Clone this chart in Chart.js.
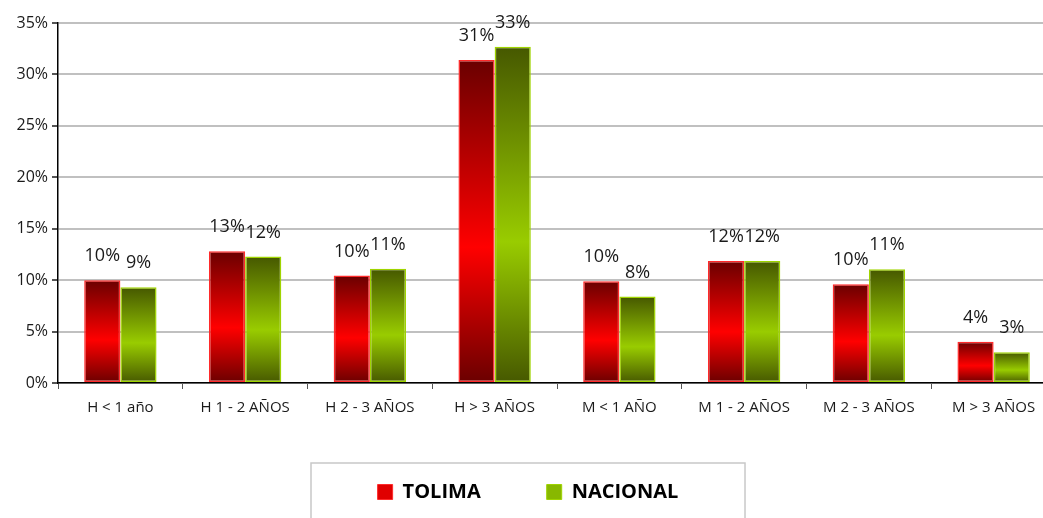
<!DOCTYPE html>
<html>
<head>
<meta charset="utf-8">
<script src="https://cdn.jsdelivr.net/npm/chart.js@4"></script>
<style>
    html, body { margin: 0; padding: 0; background: #fff; overflow: hidden; }
    #wrap { width: 1056px; height: 530px; position: relative; }
</style>
</head>
<body>
<div id="wrap"><canvas id="chart"></canvas></div>
<script>
const categories = ['H < 1 año', 'H 1 - 2 AÑOS', 'H 2 - 3 AÑOS', 'H > 3 AÑOS', 'M < 1 AÑO', 'M 1 - 2 AÑOS', 'M 2 - 3 AÑOS', 'M > 3 AÑOS'];
const tolima = [10.0, 12.8, 10.45, 31.4, 9.9, 11.85, 9.6, 4.0];
const nacional = [9.3, 12.3, 11.1, 32.7, 8.4, 11.85, 11.05, 3.0];
const yTicks = [0, 5, 10, 15, 20, 25, 30, 35];

const FONT = "'Open Sans', 'Liberation Sans', sans-serif";

// vertical gradient per bar: dark at the ends, bright towards the middle
function barGradient(dark, bright) {
    return (ctx) => {
        const chart = ctx.chart;
        if (!chart.chartArea || ctx.type !== 'data') return bright;
        const y = chart.scales.y;
        const top = y.getPixelForValue(ctx.raw);
        const bottom = y.getPixelForValue(0);
        if (!isFinite(top) || bottom - top < 1) return bright;
        const g = chart.ctx.createLinearGradient(0, top, 0, bottom);
        g.addColorStop(0, dark);
        g.addColorStop(0.58, bright);
        g.addColorStop(1, dark);
        return g;
    };
}

const valueLabels = {
    id: 'valueLabels',
    afterDatasetsDraw(chart) {
        const ctx = chart.ctx;
        ctx.save();
        ctx.font = '18px ' + FONT;
        ctx.fillStyle = '#1a1a1a';
        ctx.textAlign = 'center';
        ctx.textBaseline = 'bottom';
        chart.data.datasets.forEach((ds, i) => {
            chart.getDatasetMeta(i).data.forEach((bar, j) => {
                ctx.fillText(Math.round(ds.data[j]) + '%', bar.x, bar.y - 15);
            });
        });
        ctx.restore();
    }
};

const legendBox = {
    id: 'legendBox',
    afterDraw(chart) {
        const lg = chart.legend;
        if (!lg || !lg.legendHitBoxes.length) return;
        const first = lg.legendHitBoxes[0];
        const last = lg.legendHitBoxes[lg.legendHitBoxes.length - 1];
        const cx = (first.left + last.left + last.width) / 2;
        const cy = first.top + first.height / 2;
        const ctx = chart.ctx;
        ctx.save();
        ctx.strokeStyle = '#c8c8c8';
        ctx.lineWidth = 1.5;
        ctx.strokeRect(cx - 217, cy - 29, 434, 80);
        ctx.restore();
    }
};

new Chart(document.getElementById('chart'), {
    type: 'bar',
    data: {
        labels: categories,
        datasets: [
            {
                label: 'TOLIMA',
                data: tolima,
                backgroundColor: barGradient('#6a0000', '#ff0000'),
                borderColor: '#ff2a2a',
                borderWidth: 1.5,
                borderSkipped: false
            },
            {
                label: 'NACIONAL',
                data: nacional,
                backgroundColor: barGradient('#465800', '#99cc00'),
                borderColor: '#9fd400',
                borderWidth: 1.5,
                borderSkipped: false
            }
        ]
    },
    options: {
        responsive: true,
        maintainAspectRatio: false,
        animation: false,
        categoryPercentage: 0.58,
        barPercentage: 1.0,
        layout: { padding: { top: 23, left: 0, right: 0, bottom: 18 } },
        plugins: {
            tooltip: { enabled: false },
            legend: {
                position: 'bottom',
                labels: {
                    boxWidth: 15,
                    boxHeight: 15,
                    padding: 66,
                    color: '#111',
                    font: { family: FONT, size: 20, weight: 'bold', lineHeight: 1 },
                    generateLabels: (chart) => chart.data.datasets.map((ds, i) => ({
                        text: ds.label,
                        fillStyle: i === 0 ? '#e00000' : '#88b800',
                        strokeStyle: i === 0 ? '#ff2a2a' : '#9fd400',
                        lineWidth: 1,
                        datasetIndex: i
                    }))
                }
            }
        },
        scales: {
            x: {
                offset: true,
                grid: { display: true, drawOnChartArea: false, offset: true, tickLength: 6, color: '#555' },
                border: { color: '#000', width: 1.5 },
                ticks: { color: '#1a1a1a', font: { family: FONT, size: 15, lineHeight: 1 }, padding: 11 },
                afterFit: (scale) => { scale.height = 33; }
            },
            y: {
                min: 0,
                max: 35,
                afterBuildTicks: (scale) => { scale.ticks = yTicks.map(v => ({ value: v })); },
                grid: { color: '#c0c0c0', lineWidth: 2, tickLength: 6, tickColor: '#555' },
                border: { color: '#000', width: 1.5 },
                ticks: {
                    color: '#1a1a1a',
                    font: { family: FONT, size: 16 },
                    padding: 4,
                    callback: (v) => v + '%'
                },
                afterFit: (scale) => { scale.width = 58; }
            }
        }
    },
    plugins: [valueLabels, legendBox]
});
</script>
</body>
</html>
